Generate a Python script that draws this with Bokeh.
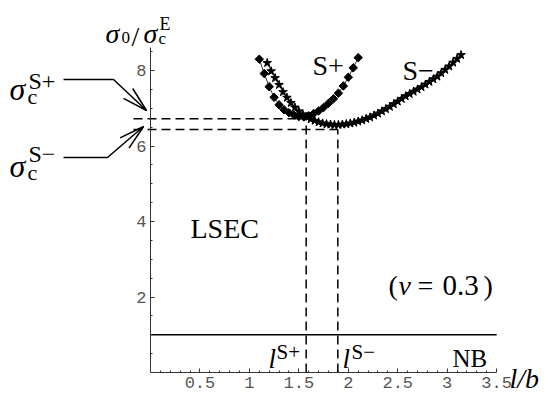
import numpy as np
from bokeh.plotting import figure
from bokeh.models import Range1d, LinearAxis, FixedTicker, Label
from bokeh.embed import file_html
from bokeh.resources import INLINE

# ---------------- data ----------------
# S+ branch (diamonds)
sp_x = [1.10, 1.15, 1.20, 1.25, 1.30, 1.35, 1.40, 1.45, 1.50, 1.55, 1.60,
        1.65, 1.70, 1.75, 1.80, 1.85, 1.90, 1.95, 2.00, 2.05, 2.10]
sp_y = [8.30, 7.92, 7.57, 7.29, 7.09, 6.96, 6.88, 6.82, 6.78, 6.77, 6.80,
        6.86, 6.93, 7.02, 7.13, 7.25, 7.40, 7.59, 7.82, 8.07, 8.34]
# S- branch (stars)
sm_x = [1.18, 1.22, 1.26, 1.30, 1.34, 1.38, 1.42, 1.46, 1.50, 1.54,
        1.58, 1.62, 1.66, 1.70, 1.74, 1.78, 1.82, 1.86, 1.90, 1.94,
        1.98, 2.02, 2.06, 2.10, 2.14, 2.18, 2.22, 2.26, 2.30, 2.34,
        2.38, 2.42, 2.46, 2.50, 2.54, 2.58, 2.62, 2.66, 2.70, 2.74,
        2.78, 2.82, 2.86, 2.90, 2.94, 2.98, 3.02, 3.06, 3.10, 3.14]
sm_y = [8.20, 7.98, 7.80, 7.62, 7.43, 7.28, 7.14, 7.02, 6.92, 6.84,
        6.77, 6.71, 6.67, 6.63, 6.60, 6.58, 6.57, 6.56, 6.56, 6.57,
        6.58, 6.60, 6.62, 6.65, 6.68, 6.72, 6.76, 6.81, 6.86, 6.92,
        6.98, 7.04, 7.11, 7.18, 7.25, 7.32, 7.38, 7.44, 7.50, 7.56,
        7.63, 7.70, 7.77, 7.84, 7.93, 8.02, 8.11, 8.21, 8.31, 8.41]
nb_level = 1.0
nb_x = [0.0, 3.5]
sigma_sp = 6.72
sigma_sm = 6.44
l_sp = 1.574
l_sm = 1.894
x_ticks = [0.5, 1, 1.5, 2, 2.5, 3, 3.5]
x_tick_labels = ["0.5", "1", "1.5", "2", "2.5", "3", "3.5"]
y_ticks = [2, 4, 6, 8]
y_tick_labels = ["2", "4", "6", "8"]

# ---------------- layout helpers ----------------
W, H = 551, 393
X0, XS = 150.0, 98.9      # canvas px of x=0, px per unit
Y0, YS = 372.0, 37.75     # canvas px of y=0, px per unit


def d(sx, sy):
    """reference-picture pixel -> data coords"""
    return (sx - X0) / XS, (Y0 - sy) / YS


p = figure(width=W, height=H,
           x_range=Range1d(-X0 / XS, (W - X0) / XS),
           y_range=Range1d(-(H - Y0) / YS, Y0 / YS),
           output_backend="svg", toolbar_location=None,
           x_axis_location=None, y_axis_location=None, min_border=0)
p.outline_line_color = None
p.grid.visible = False
p.background_fill_color = "white"
p.border_fill_color = "white"

axis_col = "#333333"
xaxis = LinearAxis(fixed_location=0, bounds=(0, 3.5),
                   ticker=FixedTicker(ticks=x_ticks,
                                      minor_ticks=[round(v, 2) for v in np.arange(0.1, 3.5, 0.1)]))
xaxis.major_label_overrides = dict(zip(x_ticks, x_tick_labels))
yaxis = LinearAxis(fixed_location=0, bounds=(0, 8.6),
                   ticker=FixedTicker(ticks=y_ticks,
                                      minor_ticks=[round(v, 2) for v in np.arange(0.5, 8.6, 0.5)]))
yaxis.major_label_overrides = dict(zip(y_ticks, y_tick_labels))
for ax in (xaxis, yaxis):
    ax.axis_line_color = axis_col
    ax.axis_line_width = 1
    ax.major_tick_line_color = axis_col
    ax.minor_tick_line_color = axis_col
    ax.major_tick_in = 4
    ax.major_tick_out = 0
    ax.minor_tick_in = 2
    ax.minor_tick_out = 0
    ax.major_label_text_font = "Liberation Mono"
    ax.major_label_text_font_size = "17px"
    ax.major_label_text_color = "#555555"
    ax.major_label_standoff = 4
p.add_layout(xaxis, "below")
p.add_layout(yaxis, "left")

# NB line
p.line(nb_x, [nb_level, nb_level], line_color="black", line_width=1.3)

# dashed guide lines
dash = dict(line_color="black", line_width=1.5, line_dash="9 5")
xl = d(133, 0)[0]
p.line([xl, l_sp], [sigma_sp, sigma_sp], **dash)
p.line([xl, l_sm], [sigma_sm, sigma_sm], **dash)
p.line([l_sp, l_sp], [0, sigma_sp], **dash)
p.line([l_sm, l_sm], [0, sigma_sm], **dash)

# curves
p.line(sp_x, sp_y, line_color="black", line_width=0.8)
p.line(sm_x, sm_y, line_color="black", line_width=0.8)
p.scatter(sp_x, sp_y, marker="square", angle=np.pi / 4, size=6,
          fill_color="black", line_color="black")
p.scatter(sm_x, sm_y, marker="star", size=9,
          fill_color="black", line_color="black")

# arrows (annotation pointers)
def poly(pts, **kw):
    xs, ys = zip(*[d(*q) for q in pts])
    p.line(list(xs), list(ys), line_color="black", line_width=1.5, **kw)

poly([(63, 79), (113, 79), (146, 110)])
poly([(123, 97.8), (146, 110)])
poly([(132.2, 88), (146, 110)])
poly([(63, 157), (107, 157), (143, 126)])
poly([(128.5, 147.6), (143, 126)])
poly([(119.6, 137.4), (143, 126)])

# texts
def txt(s, sx, sy, size, style="normal"):
    x, y = d(sx, sy)
    p.add_layout(Label(x=x, y=y, text=s, text_font="Liberation Serif",
                       text_font_size=f"{size}px", text_font_style=style,
                       text_color="black", text_baseline="alphabetic",
                       text_align="left"))

# y label sigma_0 / sigma_c^E
txt("σ", 105, 33, 28, "italic")
txt("0", 121, 37, 17)
txt("/", 131, 36, 28)
txt("σ", 143, 33, 28, "italic")
txt("c", 158, 38, 17)
txt("E", 159, 23, 18)
# sigma_c^{S+}
txt("σ", 9, 88, 32, "italic")
txt("c", 27, 96, 22)
txt("S+", 28, 80, 24)
# sigma_c^{S-}
txt("σ", 9, 165, 32, "italic")
txt("c", 27, 172, 22)
txt("S−", 28, 153, 24)
# curve names
txt("S+", 312, 65, 28)
txt("S−", 402, 70, 28)
txt("LSEC", 190, 228, 28)
# (nu = 0.3)
txt("(", 388, 285, 28)
txt("ν", 398, 285, 28, "italic")
txt("=", 417, 285, 28)
txt("0.3", 442, 285, 29)
txt(")", 483, 285, 28)
# NB, l^S+, l^S-
txt("NB", 452, 358, 25)
txt("l", 268, 358, 27, "italic")
txt("S+", 276, 351, 21)
txt("l", 342, 358, 27, "italic")
txt("S−", 351, 351, 21)
# x label
txt("l/b", 509, 378, 28, "italic")

open("out.html", "w").write(file_html(p, INLINE))
